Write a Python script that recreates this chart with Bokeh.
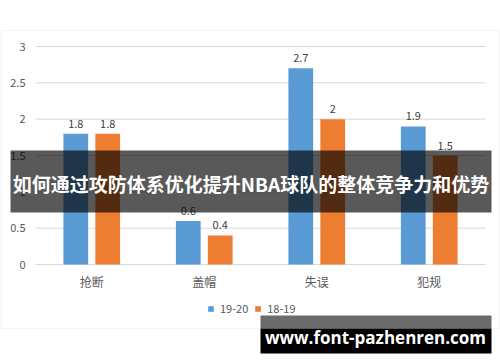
from bokeh.plotting import figure
from bokeh.models import (Range1d, BoxAnnotation, Label, Legend, LegendItem, ColumnDataSource)
from bokeh.transform import dodge
from bokeh.core.properties import value
from bokeh.embed import file_html
from bokeh.resources import INLINE

categories = ["抢断", "盖帽", "失误", "犯规"]
series_names = ["19-20", "18-19"]
values_1920 = [1.8, 0.6, 2.7, 1.9]
values_1819 = [1.8, 0.4, 2.0, 1.5]
y_ticks = [0, 0.5, 1, 1.5, 2, 2.5, 3]
y_tick_labels = ["0", "0.5", "1", "1.5", "2", "2.5", "3"]
banner_text = "如何通过攻防体系优化提升NBA球队的整体竞争力和优势"
watermark_text = "www.font-pazhenren.com"

BLUE = "#5b9bd5"
ORANGE = "#ed7d31"
FONT = "Noto Sans CJK SC"
W, H = 500, 362
# plot area in canvas pixels
PL, PR, PT, PB = 35, 485, 46, 264
YMAX = 3
n = len(categories)
xu = (PR - PL) / n          # px per category
yu = (PB - PT) / YMAX       # px per unit

p = figure(width=W, height=H,
           x_range=Range1d(-PL / xu, n + (W - PR) / xu),
           y_range=Range1d(-(H - PB) / yu, YMAX + PT / yu),
           output_backend="svg", toolbar_location=None, min_border=0)
p.outline_line_color = None
p.axis.visible = False
p.grid.visible = False
p.background_fill_color = "white"
p.border_fill_color = "white"

src = ColumnDataSource(dict(
    x=[i + 0.5 for i in range(n)],
    cat=categories,
    a=values_1920,
    b=values_1819,
    la=[f"{v:g}" for v in values_1920],
    lb=[f"{v:g}" for v in values_1819],
))
tsrc = ColumnDataSource(dict(y=y_ticks, lab=y_tick_labels))

# outer chart border
p.add_layout(BoxAnnotation(left=1, right=499, top=30, bottom=328,
                           left_units="canvas", right_units="canvas",
                           top_units="canvas", bottom_units="canvas",
                           fill_alpha=0, line_color="#d9d9d9", line_width=1.2,
                           level="underlay"))

# gridlines
p.segment(x0=0, x1=n, y0="y", y1="y", source=tsrc, line_color="#d9d9d9", line_width=1)

ra = p.vbar(x=dodge("x", -0.142), top="a", width=0.22, source=src,
            fill_color=BLUE, line_color=None)
rb = p.vbar(x=dodge("x", 0.142), top="b", width=0.22, source=src,
            fill_color=ORANGE, line_color=None)

for col, lab, off in (("a", "la", -0.142), ("b", "lb", 0.142)):
    p.text(x=dodge("x", off), y=col, text=lab, source=src,
           text_align="center", text_baseline="alphabetic", y_offset=-10,
           text_font=value(FONT), text_font_size="11px", text_color="#404040")

# y tick labels
p.text(x=0, y="y", text="lab", source=tsrc, x_offset=-10, text_align="right",
       text_baseline="middle", text_font=value(FONT), text_font_size="11px",
       text_color="#595959")
# category labels
p.text(x="x", y=0, text="cat", source=src, y_offset=17, text_align="center",
       text_baseline="middle", text_font=value(FONT), text_font_size="12px",
       text_color="#595959")

legend = Legend(items=[LegendItem(label=series_names[0], renderers=[ra]),
                       LegendItem(label=series_names[1], renderers=[rb])],
                orientation="horizontal", location=(207, 46),
                glyph_width=7, glyph_height=7, label_height=14, label_standoff=6,
                spacing=6, padding=0, margin=0, border_line_color=None,
                background_fill_alpha=0, label_text_font=FONT,
                label_text_font_size="11px", label_text_color="#595959")
p.add_layout(legend, "center")

# banner overlay
p.add_layout(BoxAnnotation(left=10, right=491, top=150, bottom=212,
                           left_units="canvas", right_units="canvas",
                           top_units="canvas", bottom_units="canvas",
                           fill_color="black", fill_alpha=0.65, line_color=None))
p.add_layout(Label(x=250.5, y=183, x_units="canvas", y_units="canvas", text=banner_text,
                   text_align="center", text_baseline="middle", text_font=FONT,
                   text_font_style="bold", text_font_size="19px", text_color="white"))

# watermark
p.add_layout(BoxAnnotation(left=260, right=491, top=315, bottom=328,
                           left_units="canvas", right_units="canvas",
                           top_units="canvas", bottom_units="canvas",
                           fill_color="#6b6b6b", fill_alpha=1, line_color=None))
p.add_layout(BoxAnnotation(left=260, right=491, top=328, bottom=353,
                           left_units="canvas", right_units="canvas",
                           top_units="canvas", bottom_units="canvas",
                           fill_color="black", fill_alpha=1, line_color=None))
p.add_layout(Label(x=375, y=337, x_units="canvas", y_units="canvas", text=watermark_text,
                   text_align="center", text_baseline="middle", text_font="Open Sans",
                   text_font_style="bold", text_font_size="17px", text_color="white"))

open("out.html", "w").write(file_html(p, INLINE))
